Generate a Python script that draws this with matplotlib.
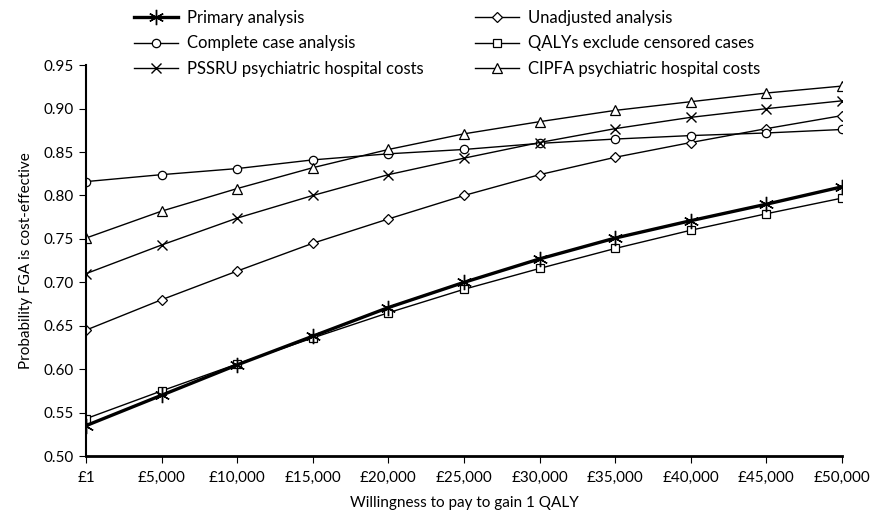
import matplotlib
matplotlib.use("Agg")
import matplotlib.pyplot as plt

wtp_labels = ["£1", "£5,000", "£10,000", "£15,000", "£20,000", "£25,000",
              "£30,000", "£35,000", "£40,000", "£45,000", "£50,000"]
primary = [0.535, 0.570, 0.605, 0.638, 0.671, 0.700, 0.727, 0.751, 0.771, 0.790, 0.810]
unadjusted = [0.645, 0.680, 0.713, 0.745, 0.773, 0.800, 0.824, 0.844, 0.861, 0.877, 0.892]
complete_case = [0.816, 0.824, 0.831, 0.841, 0.848, 0.853, 0.860, 0.865, 0.869, 0.872, 0.876]
qalys_excl = [0.543, 0.575, 0.606, 0.636, 0.665, 0.692, 0.716, 0.739, 0.760, 0.779, 0.797]
pssru = [0.710, 0.743, 0.774, 0.800, 0.824, 0.843, 0.861, 0.877, 0.890, 0.900, 0.909]
cipfa = [0.751, 0.782, 0.808, 0.832, 0.853, 0.871, 0.885, 0.898, 0.908, 0.918, 0.926]

plt.rcParams['font.family'] = ['Lato', 'DejaVu Sans']

fig = plt.figure(figsize=(8.73, 5.26), dpi=100)
ax = fig.add_axes([0.0985, 0.133, 0.866, 0.743])
x = list(range(len(wtp_labels)))

mk = dict(markerfacecolor='white', markeredgecolor='black', markersize=6, markeredgewidth=0.9)
h1, = ax.plot(x, primary, color='black', lw=2.4, marker=(6, 2, 0), markersize=11,
              markeredgewidth=1.0, markeredgecolor='black', label='Primary analysis', zorder=6)
h2, = ax.plot(x, unadjusted, color='black', lw=1.0, marker='D', label='Unadjusted analysis',
              **{**mk, 'markersize': 5})
h3, = ax.plot(x, complete_case, color='black', lw=1.0, marker='o', label='Complete case analysis', **mk)
h4, = ax.plot(x, qalys_excl, color='black', lw=1.0, marker='s', label='QALYs exclude censored cases', **mk)
h5, = ax.plot(x, pssru, color='black', lw=1.0, marker='x', markersize=7, markeredgewidth=1.0,
              markeredgecolor='black', label='PSSRU psychiatric hospital costs')
h6, = ax.plot(x, cipfa, color='black', lw=1.0, marker='^', label='CIPFA psychiatric hospital costs',
              **{**mk, 'markersize': 7})

ax.set_xlim(0, 10)
ax.set_ylim(0.50, 0.95)
ax.set_xticks(x)
ax.set_xticklabels(wtp_labels)
yt = [0.50 + 0.05 * i for i in range(10)]
ax.set_yticks(yt)
ax.set_yticklabels([f"{v:.2f}" for v in yt])
ax.tick_params(axis='both', labelsize=11, length=5, width=0.8, colors='black')
ax.tick_params(axis='x', pad=6)
for s in ['top', 'right']:
    ax.spines[s].set_visible(False)
ax.spines['left'].set_linewidth(1.5)
ax.spines['bottom'].set_linewidth(2.0)

ax.set_xlabel("Willingness to pay to gain 1 QALY", fontsize=11, labelpad=8)
ax.set_ylabel("Probability FGA is cost-effective", fontsize=11, labelpad=8)

leg = fig.legend(handles=[h1, h3, h5, h2, h4, h6], ncol=2, loc='upper left',
                 bbox_to_anchor=(0.1535, 0.981), frameon=False, fontsize=12,
                 borderpad=0, borderaxespad=0,
                 handlelength=2.65, columnspacing=3.05, labelspacing=0.57, handletextpad=0.54)

fig.savefig("out.png", dpi=100)
